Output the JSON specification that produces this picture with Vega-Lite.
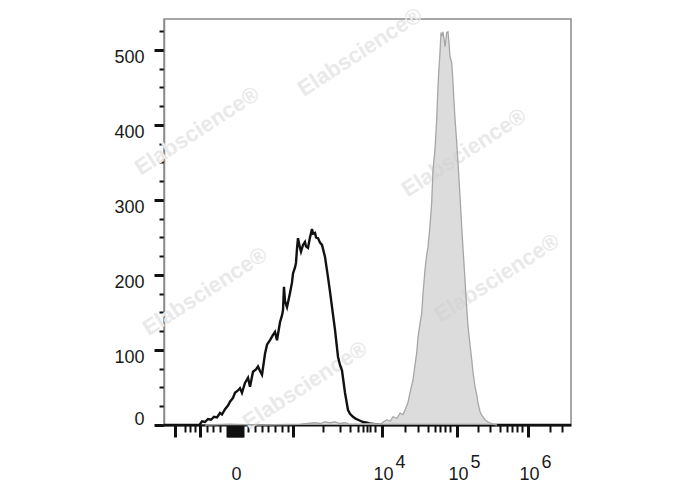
{
  "$schema": "https://vega.github.io/schema/vega-lite/v6.json",
  "width": 407,
  "height": 406,
  "autosize": {"type": "none"},
  "padding": {"left": 164, "top": 19, "right": 117, "bottom": 65},
  "background": "white",
  "config": {"view": {"stroke": "#8a8a8a", "strokeWidth": 1.5}},
  "datasets": {
    "black": [
      {"channel": 0, "count": 0}, {"channel": 86.0, "count": 0}, {"channel": 88.5, "count": 1},
      {"channel": 93.4, "count": 5}, {"channel": 100.7, "count": 4}, {"channel": 108.1, "count": 8},
      {"channel": 115.5, "count": 7}, {"channel": 122.8, "count": 11}, {"channel": 130.2, "count": 10},
      {"channel": 137.6, "count": 16}, {"channel": 142.5, "count": 14}, {"channel": 149.9, "count": 21},
      {"channel": 157.2, "count": 26}, {"channel": 162.2, "count": 31}, {"channel": 169.5, "count": 36},
      {"channel": 174.4, "count": 43}, {"channel": 181.8, "count": 46}, {"channel": 186.7, "count": 49},
      {"channel": 191.6, "count": 43}, {"channel": 199.0, "count": 56}, {"channel": 206.4, "count": 63},
      {"channel": 211.3, "count": 51}, {"channel": 218.7, "count": 71}, {"channel": 226.0, "count": 74},
      {"channel": 231.0, "count": 78}, {"channel": 235.9, "count": 72}, {"channel": 240.8, "count": 67},
      {"channel": 248.2, "count": 95}, {"channel": 253.1, "count": 107}, {"channel": 260.5, "count": 113},
      {"channel": 267.8, "count": 120}, {"channel": 272.7, "count": 124}, {"channel": 277.6, "count": 113},
      {"channel": 285.0, "count": 137}, {"channel": 289.9, "count": 146}, {"channel": 292.4, "count": 153},
      {"channel": 294.8, "count": 184}, {"channel": 297.3, "count": 165}, {"channel": 302.2, "count": 157},
      {"channel": 309.6, "count": 176}, {"channel": 314.5, "count": 190}, {"channel": 317.0, "count": 202},
      {"channel": 321.9, "count": 210}, {"channel": 324.3, "count": 216}, {"channel": 326.8, "count": 235},
      {"channel": 329.2, "count": 249}, {"channel": 334.2, "count": 236}, {"channel": 336.6, "count": 231},
      {"channel": 341.5, "count": 240}, {"channel": 346.4, "count": 244}, {"channel": 348.9, "count": 238},
      {"channel": 353.8, "count": 236}, {"channel": 358.7, "count": 250}, {"channel": 363.6, "count": 261},
      {"channel": 366.1, "count": 255}, {"channel": 371.0, "count": 256}, {"channel": 373.5, "count": 250},
      {"channel": 378.4, "count": 249}, {"channel": 383.3, "count": 243}, {"channel": 388.2, "count": 240},
      {"channel": 395.6, "count": 224}, {"channel": 402.9, "count": 197}, {"channel": 407.8, "count": 178},
      {"channel": 412.8, "count": 157}, {"channel": 420.1, "count": 127}, {"channel": 427.5, "count": 91},
      {"channel": 432.4, "count": 80}, {"channel": 437.3, "count": 73}, {"channel": 444.7, "count": 43},
      {"channel": 452.1, "count": 20}, {"channel": 457.0, "count": 15}, {"channel": 464.4, "count": 11},
      {"channel": 471.7, "count": 8}, {"channel": 476.7, "count": 7}, {"channel": 488.9, "count": 4},
      {"channel": 498.8, "count": 3}, {"channel": 506.1, "count": 2}, {"channel": 518.4, "count": 1},
      {"channel": 530.7, "count": 0}, {"channel": 1000, "count": 0}
    ],
    "gray": [
      {"channel": 100.7, "count": 0}, {"channel": 162.2, "count": 1}, {"channel": 235.9, "count": 0},
      {"channel": 334.2, "count": 1}, {"channel": 371.0, "count": 3}, {"channel": 383.3, "count": 2},
      {"channel": 395.6, "count": 4}, {"channel": 407.8, "count": 3}, {"channel": 420.1, "count": 4},
      {"channel": 432.4, "count": 2}, {"channel": 444.7, "count": 3}, {"channel": 457.0, "count": 1},
      {"channel": 481.6, "count": 1}, {"channel": 506.1, "count": 2}, {"channel": 530.7, "count": 1},
      {"channel": 547.2, "count": 7}, {"channel": 555.3, "count": 5}, {"channel": 562.7, "count": 11},
      {"channel": 572.5, "count": 9}, {"channel": 579.9, "count": 16}, {"channel": 587.2, "count": 14},
      {"channel": 592.1, "count": 20}, {"channel": 599.5, "count": 30}, {"channel": 604.4, "count": 43},
      {"channel": 611.8, "count": 60}, {"channel": 616.7, "count": 80}, {"channel": 620.9, "count": 96},
      {"channel": 624.1, "count": 117}, {"channel": 629.0, "count": 135}, {"channel": 633.2, "count": 149},
      {"channel": 636.4, "count": 175}, {"channel": 641.3, "count": 207}, {"channel": 645.0, "count": 225},
      {"channel": 648.6, "count": 237}, {"channel": 653.5, "count": 265}, {"channel": 657.7, "count": 296},
      {"channel": 660.9, "count": 340}, {"channel": 665.8, "count": 367}, {"channel": 670.0, "count": 407},
      {"channel": 673.2, "count": 451}, {"channel": 675.6, "count": 475}, {"channel": 678.1, "count": 496},
      {"channel": 680.6, "count": 523}, {"channel": 683.0, "count": 518}, {"channel": 685.5, "count": 524},
      {"channel": 687.9, "count": 515}, {"channel": 690.4, "count": 504}, {"channel": 692.9, "count": 515},
      {"channel": 694.6, "count": 523}, {"channel": 697.8, "count": 524}, {"channel": 700.2, "count": 510},
      {"channel": 702.7, "count": 491}, {"channel": 706.9, "count": 483}, {"channel": 710.1, "count": 456},
      {"channel": 712.6, "count": 430}, {"channel": 715.1, "count": 407}, {"channel": 718.8, "count": 380},
      {"channel": 722.4, "count": 349}, {"channel": 727.3, "count": 305}, {"channel": 731.5, "count": 264},
      {"channel": 734.7, "count": 235}, {"channel": 739.6, "count": 193}, {"channel": 743.3, "count": 160},
      {"channel": 747.0, "count": 131}, {"channel": 751.9, "count": 107}, {"channel": 756.1, "count": 87},
      {"channel": 759.3, "count": 70}, {"channel": 764.2, "count": 51}, {"channel": 769.1, "count": 38},
      {"channel": 771.5, "count": 29}, {"channel": 776.4, "count": 18}, {"channel": 780.6, "count": 13},
      {"channel": 788.7, "count": 7}, {"channel": 796.1, "count": 4}, {"channel": 801.0, "count": 3},
      {"channel": 808.4, "count": 1}, {"channel": 818.2, "count": 0}
    ],
    "watermarks": [
      {"channel": 481.6, "count": 497, "label": "Elabscience®"},
      {"channel": 81.0, "count": 392, "label": "Elabscience®"},
      {"channel": 737.0, "count": 363, "label": "Elabscience®"},
      {"channel": 100.7, "count": 178, "label": "Elabscience®"},
      {"channel": 818.0, "count": 196, "label": "Elabscience®"},
      {"channel": 346.4, "count": 53, "label": "Elabscience®"}
    ]
  },
  "resolve": {"axis": {"x": "independent", "y": "independent"}},
  "layer": [
    {
      "data": {"name": "watermarks"},
      "mark": {"type": "text", "font": "Liberation Sans", "fontWeight": "bold", "fontSize": 22, "color": "#e9e9e9", "angle": -33, "align": "center", "baseline": "middle", "clip": false},
      "encoding": {
        "x": {"field": "channel", "type": "quantitative", "scale": {"domain": [0, 1000], "nice": false, "zero": false}, "axis": null},
        "y": {"field": "count", "type": "quantitative", "scale": {"domain": [0, 541], "nice": false}, "axis": null},
        "text": {"field": "label"}
      }
    },
    {
      "data": {"name": "black"},
      "mark": {"type": "line", "color": "#111111", "strokeWidth": 2.4, "interpolate": "linear"},
      "encoding": {
        "x": {
          "field": "channel", "type": "quantitative",
          "axis": {
            "orient": "bottom", "title": null, "grid": false,
            "values": [27.0, 51.6, 63.9, 76.2, 88.5, 105.7, 120.4, 137.6, 154.8, 157.3, 159.7, 162.2, 164.6, 167.1, 169.5, 172.0, 174.4, 176.9, 179.3, 181.8, 184.3, 186.7, 189.2, 191.6, 194.1, 206.4, 223.6, 240.8, 255.5, 272.7, 289.9, 304.7, 317.0, 390.7, 432.4, 457.0, 476.7, 488.9, 498.8, 506.1, 518.4, 535.6, 592.1, 624.1, 648.6, 665.8, 678.1, 690.4, 702.7, 719.9, 771.5, 801.0, 825.6, 842.8, 855.0, 867.3, 879.6, 894.3, 948.4, 977.9],
            "labelExpr": "datum.value === 174.4 ? '0' : (datum.value === 535.6 || datum.value === 719.9 || datum.value === 894.3) ? '10' : ''",
            "labelOverlap": false, "labelFlush": false, "labelBound": false,
            "labelFont": "Liberation Sans", "labelFontSize": 18, "labelColor": "#1a1a1a",
            "labelPadding": 28, "labelOffset": 1,
            "domain": true, "domainColor": "#111111", "domainWidth": 2,
            "tickColor": "#111111",
            "tickSize": {"condition": {"test": "indexof([27, 88.5, 317, 535.6, 719.9, 894.3], datum.value) >= 0 || (datum.value > 150 && datum.value < 196)", "value": 12}, "value": 7},
            "tickWidth": {"condition": {"test": "indexof([27, 88.5, 317, 535.6, 719.9, 894.3], datum.value) >= 0", "value": 3}, "value": 2}
          }
        },
        "y": {
          "field": "count", "type": "quantitative",
          "axis": {
            "orient": "left", "title": null, "grid": false,
            "values": [0, 25, 50, 75, 100, 125, 150, 175, 200, 225, 250, 275, 300, 325, 350, 375, 400, 425, 450, 475, 500, 525],
            "labelExpr": "datum.value % 100 === 0 ? datum.label : ''",
            "labelOverlap": false, "labelFlush": false, "labelBound": false,
            "labelFont": "Liberation Sans", "labelFontSize": 18, "labelColor": "#1a1a1a",
            "labelPadding": 10, "labelOffset": -1,
            "labelBaseline": {"condition": {"test": "datum.value === 0", "value": "alphabetic"}, "value": "top"},
            "domain": true, "domainColor": "#8a8a8a", "domainWidth": 1.5,
            "tickColor": "#111111",
            "tickSize": {"condition": {"test": "datum.value % 100 === 0", "value": 10}, "value": 5},
            "tickWidth": {"condition": {"test": "datum.value % 100 === 0", "value": 3}, "value": 2}
          }
        }
      }
    },
    {
      "data": {"name": "gray"},
      "mark": {"type": "area", "color": "#cdcdcd", "line": {"color": "#a6a6a6", "strokeWidth": 1.3}, "interpolate": "linear"},
      "encoding": {
        "x": {
          "field": "channel", "type": "quantitative",
          "axis": {
            "orient": "bottom", "title": null, "grid": false,
            "values": [535.6, 719.9, 894.3],
            "labelExpr": "datum.value === 535.6 ? '4' : datum.value === 719.9 ? '5' : '6'",
            "labelOverlap": false, "labelFlush": false, "labelBound": false,
            "labelFont": "Liberation Sans", "labelFontSize": 18, "labelColor": "#1a1a1a",
            "labelPadding": 28, "labelOffset": 18,
            "ticks": false, "domain": false
          }
        },
        "y": {"field": "count", "type": "quantitative", "axis": null}
      }
    }
  ]
}
